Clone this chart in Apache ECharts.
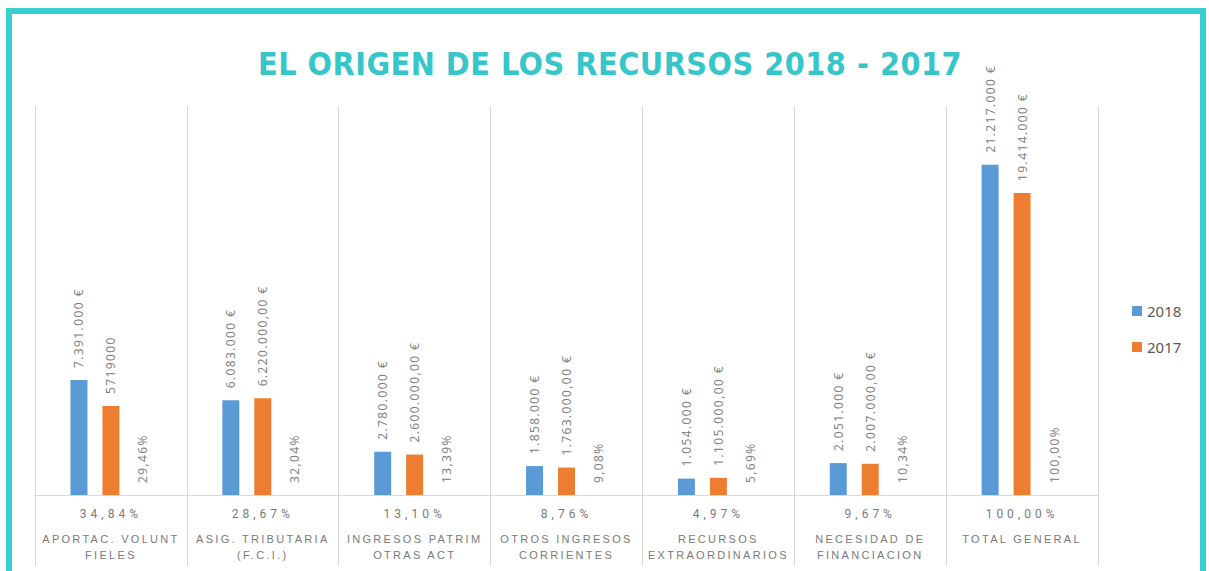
<!DOCTYPE html>
<html>
<head>
<meta charset="utf-8">
<script src="https://cdn.jsdelivr.net/npm/echarts@6.0.0/dist/echarts.min.js"></script>
<style>
  html, body { margin: 0; padding: 0; background: #fff; overflow: hidden; }
  #main { position: absolute; left: 0; top: 0; width: 1209px; height: 571px; }
  #frame {
    position: absolute; left: 6px; top: 8px; width: 1200px; height: 620px;
    box-sizing: border-box; border: 6px solid #38cfd0; pointer-events: none;
  }
  /* letter spacing like the original (svg renderer) */
  #main text[style*="Condensed"] { letter-spacing: 0.5px; }
  #main text[style*="Roboto"] { letter-spacing: 4px; }
  #main text[style*="Liberation"] { letter-spacing: 2.3px; }
  #main text[style*="Open Sans"] { letter-spacing: 1.4px; }
</style>
</head>
<body>
<div id="main"></div>
<div id="frame"></div>
<script>
  var categories = [
    "APORTAC. VOLUNT\nFIELES",
    "ASIG. TRIBUTARIA\n(F.C.I.)",
    "INGRESOS PATRIM\nOTRAS ACT",
    "OTROS INGRESOS\nCORRIENTES",
    "RECURSOS\nEXTRAORDINARIOS",
    "NECESIDAD DE\nFINANCIACION",
    "TOTAL GENERAL",
  ];
  var values2018 = [7391000, 6083000, 2780000, 1858000, 1054000, 2051000, 21217000];
  var values2017 = [5719000, 6220000, 2600000, 1763000, 1105000, 2007000, 19414000];
  // como aparecen las etiquetas de 2017 en la hoja
  var format2017 = ["plain", "cents", "cents", "cents", "cents", "cents", "euro"];
  var share2018 = [34.84, 28.67, 13.1, 8.76, 4.97, 9.67, 100.0];
  var share2017 = [29.46, 32.04, 13.39, 9.08, 5.69, 10.34, 100.0];

  function miles(v) {
    return String(v).replace(/\B(?=(\d{3})+(?!\d))/g, ".");
  }
  function euro(v, kind) {
    if (kind === "plain") return String(v);
    if (kind === "cents") return miles(v) + ",00 €";
    return miles(v) + " €";
  }
  function pct(v) {
    return v.toFixed(2).replace(".", ",") + "%";
  }

  var myChart = echarts.init(document.getElementById("main"), null, {
    renderer: "svg",
  });

  var valueLabel = {
    show: true,
    position: "top",
    distance: 12,
    rotate: 90,
    align: "left",
    verticalAlign: "middle",
    color: "#7a7a7a",
    fontSize: 12,
    fontFamily: "Open Sans",
  };

  var option = {
    backgroundColor: "#fff",
    animation: false,
    title: {
      text: "EL ORIGEN DE LOS RECURSOS 2018 - 2017",
      left: 605,
      top: 43,
      textAlign: "center",
      textStyle: {
        color: "#36c6ca",
        fontSize: 32,
        fontWeight: "bold",
        fontFamily: "DejaVu Sans Condensed",
      },
    },
    legend: {
      data: ["2018", "2017"],
      orient: "vertical",
      left: 1132,
      top: 303,
      padding: 0,
      itemWidth: 10,
      itemHeight: 10,
      itemGap: 20,
      icon: "rect",
      textStyle: {
        color: "#595959",
        fontSize: 15,
        lineHeight: 16,
        fontFamily: "Noto Sans",
      },
    },
    grid: {
      left: 35,
      right: 111,
      top: 106,
      bottom: 76,
    },
    xAxis: {
      type: "category",
      data: categories,
      axisLine: { lineStyle: { color: "#d9d9d9" } },
      axisTick: {
        show: true,
        interval: 0,
        length: 71,
        lineStyle: { color: "#d9d9d9" },
      },
      splitLine: {
        show: true,
        interval: 0,
        lineStyle: { color: "#d9d9d9" },
      },
      axisLabel: {
        interval: 0,
        margin: 2,
        color: "#7a7a7a",
        formatter: function (value, index) {
          var lines = value.split("\n").map(function (s) {
            return "{n|" + s + "}";
          });
          return "{p|" + pct(share2018[index]) + "}\n" + lines.join("\n");
        },
        rich: {
          p: {
            fontSize: 12,
            lineHeight: 34,
            color: "#7a7a7a",
            fontFamily: "Roboto",
          },
          n: {
            fontSize: 11,
            lineHeight: 16,
            color: "#7a7a7a",
            fontFamily: "Liberation Sans",
          },
        },
      },
    },
    yAxis: {
      type: "value",
      min: 0,
      max: 25000000,
      show: false,
    },
    series: [
      {
        name: "2018",
        type: "bar",
        barWidth: 17,
        barGap: "88%",
        data: values2018,
        itemStyle: { color: "#5b9bd5" },
        label: Object.assign({}, valueLabel, {
          formatter: function (p) {
            return euro(p.value, "euro");
          },
        }),
      },
      {
        name: "2017",
        type: "bar",
        barWidth: 17,
        data: values2017,
        itemStyle: { color: "#ed7d31" },
        label: Object.assign({}, valueLabel, {
          formatter: function (p) {
            return euro(p.value, format2017[p.dataIndex]);
          },
        }),
      },
      {
        name: "% 2017",
        type: "bar",
        barWidth: 17,
        data: share2017,
        itemStyle: { color: "rgba(0,0,0,0)" },
        label: Object.assign({}, valueLabel, {
          formatter: function (p) {
            return pct(p.value);
          },
        }),
      },
    ],
  };

  myChart.setOption(option);
  window.addEventListener("resize", myChart.resize);
</script>
</body>
</html>
